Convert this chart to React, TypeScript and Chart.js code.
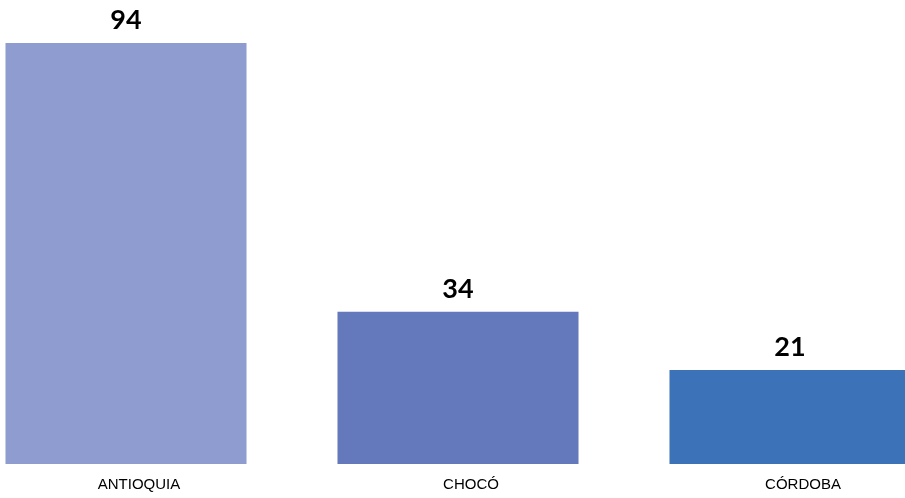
import React, { useEffect, useRef } from "react";
import { Chart, registerables } from "chart.js";

Chart.register(...registerables);

const categories = ["ANTIOQUIA", "CHOCÓ", "CÓRDOBA"];
const values = [94, 34, 21];
const barColors = ["#8E9CD0", "#6379BB", "#3C72B8"];

const valueLabelPlugin = {
  id: "valueLabels",
  afterDatasetsDraw(chart: any) {
    const { ctx } = chart;
    const meta = chart.getDatasetMeta(0);
    ctx.save();
    ctx.fillStyle = "#000000";
    ctx.font = "bold 27px Lato, 'Open Sans', sans-serif";
    ctx.textAlign = "center";
    ctx.textBaseline = "alphabetic";
    meta.data.forEach((bar: any, i: number) => {
      ctx.fillText(String(values[i]), bar.x, bar.y - 14);
    });
    ctx.restore();
  },
};

export default function App() {
  const canvasRef = useRef<HTMLCanvasElement | null>(null);

  useEffect(() => {
    if (!canvasRef.current) return;
    const chart = new Chart(canvasRef.current, {
      type: "bar",
      data: {
        labels: categories,
        datasets: [
          {
            data: values,
            backgroundColor: barColors,
            borderWidth: 0,
            barPercentage: 1,
            categoryPercentage: 0.726,
          },
        ],
      },
      options: {
        animation: false,
        responsive: false,
        maintainAspectRatio: false,
        layout: { padding: { top: 16, bottom: 8, left: 0, right: 0 } },
        plugins: {
          legend: { display: false },
          tooltip: { enabled: false },
        },
        scales: {
          x: {
            grid: { display: false },
            border: { display: false },
            ticks: {
              color: "#000000",
              font: { family: "'Liberation Sans', Arial, sans-serif", size: 15 },
              padding: 4,
              labelOffset: 13,
              maxRotation: 0,
              autoSkip: false,
            },
          },
          y: {
            display: false,
            min: 0,
            max: 100,
          },
        },
      },
      plugins: [valueLabelPlugin],
    });
    return () => chart.destroy();
  }, []);

  return (
    <div
      style={{
        position: "fixed",
        left: 0,
        top: 0,
        width: 905,
        height: 498,
        overflow: "hidden",
        background: "#ffffff",
      }}
    >
      <canvas
        ref={canvasRef}
        width={996}
        height={506}
        style={{ position: "absolute", left: -40, top: 0, width: 996, height: 506 }}
      />
    </div>
  );
}
